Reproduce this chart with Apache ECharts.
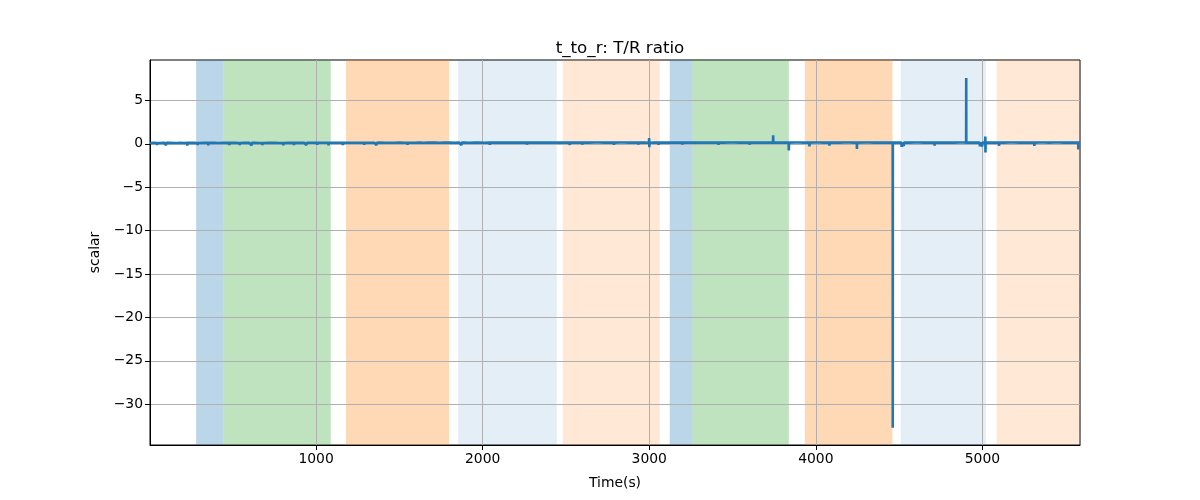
<!DOCTYPE html>
<html>
<head>
<meta charset="utf-8">
<script src="https://cdn.jsdelivr.net/npm/echarts@6/dist/echarts.min.js"></script>
<style>html,body{margin:0;padding:0;background:#fff}#c{width:1200px;height:500px}</style>
</head>
<body>
<div id="c"></div>
<script>
// ---- data ----
const titleText = 't_to_r: T/R ratio';
const xName = 'Time(s)';
const yName = 'scalar';
const xTicks = [1000, 2000, 3000, 4000, 5000];
const yTicks = [5, 0, -5, -10, -15, -20, -25, -30];
const xRange = [3, 5586];
const yRange = [-34.7, 9.66];

// sampled baseline (time in s)
const baseTimes = [
  3,30,60,90,120,150,180,210,240,270,
  300,330,360,390,420,450,480,510,540,570,
  600,630,660,690,720,750,780,810,840,870,
  900,930,960,990,1020,1050,1080,1110,1140,1170,
  1200,1230,1260,1320,1350,1380,1410,1440,1470,
  1500,1530,1560,1590,1620,1650,1680,1710,1740,1770,
  1800,1830,1860,1890,1920,1950,1980,2010,2070,
  2100,2130,2160,2190,2220,2250,2280,2310,2340,2370,
  2400,2430,2460,2490,2520,2550,2580,2610,2640,2670,
  2700,2730,2760,2790,2820,2850,2880,2910,2940,2970,
  3030,3060,3090,3120,3150,3180,3210,3240,3270,
  3300,3330,3360,3390,3420,3450,3480,3510,3540,3570,
  3600,3630,3660,3690,3720,3780,3810,3870,
  3900,3930,3990,4020,4050,4080,4110,4140,4170,
  4200,4230,4290,4320,4350,4380,4410,4440,
  4500,4560,4590,4620,4650,4680,4740,4770,
  4800,4830,4860,4890,4920,4950,5040,5070,
  5100,5130,5160,5190,5220,5250,5280,5340,5370,
  5400,5430,5460,5490,5520,5550,5586
];
const baseValues = [
  0.10,0.12,0.09,0.13,0.11,0.10,0.12,0.09,0.11,0.12,
  0.10,0.13,0.11,0.12,0.10,0.12,0.11,0.13,0.10,0.12,
  0.11,0.12,0.10,0.13,0.11,0.12,0.10,0.12,0.11,0.13,
  0.12,0.11,0.13,0.12,0.11,0.13,0.12,0.12,0.13,0.12,
  0.13,0.12,0.13,0.12,0.13,0.14,0.13,0.12,0.13,
  0.14,0.13,0.14,0.13,0.14,0.13,0.14,0.14,0.13,0.14,
  0.14,0.13,0.14,0.14,0.13,0.14,0.14,0.13,0.14,
  0.14,0.15,0.14,0.14,0.15,0.14,0.15,0.14,0.14,0.15,
  0.14,0.15,0.14,0.15,0.14,0.15,0.14,0.15,0.14,0.15,
  0.15,0.14,0.15,0.14,0.15,0.15,0.14,0.15,0.14,0.15,
  0.14,0.15,0.14,0.15,0.14,0.15,0.14,0.15,0.14,
  0.15,0.14,0.15,0.14,0.15,0.14,0.15,0.15,0.14,0.15,
  0.14,0.15,0.14,0.15,0.14,0.15,0.14,0.15,
  0.15,0.14,0.15,0.15,0.14,0.15,0.15,0.14,0.15,
  0.15,0.14,0.15,0.15,0.14,0.15,0.14,0.15,
  0.15,0.14,0.15,0.15,0.14,0.15,0.15,0.14,
  0.15,0.14,0.15,0.15,0.14,0.15,0.15,0.14,
  0.15,0.14,0.15,0.15,0.14,0.15,0.14,0.15,0.15,
  0.14,0.15,0.15,0.14,0.15,0.14,0.15
];
// short excursions (spikes / dips), given as [before, peak, after] samples
const eventTimes = [
  44,45,46,  98,99,100,  167,168,169,  226,227,228,  288,289,290,
  352,353,354,  412,413,414,  478,479,480,  541,542,543,  612,613,614,
  677,678,679,  734,735,736,  802,803,804,  866,867,868,  941,942,943,
  1006,1007,1008,  1074,1075,1076,  1159,1160,1161,  1288,1289,1290,
  1362,1363,1364,  1456,1457,1458,  1548,1549,1550,  1644,1645,1646,
  1872,1873,1874,  2042,2043,2044,  2265,2266,2267,  2522,2523,2524,
  2598,2599,2600,  2787,2788,2789,  2934,2935,2936,
  2998.5,2999.5,3000.5,3001.5,
  3055,3056,3057,  3198,3199,3200,  3415,3416,3417,  3602,3603,3604,
  3743,3744,3745,
  3837,3838,3839,
  3961,3962,3963,
  4081,4082,4083,
  4246,4247,4248,
  4461.5,4462,4462.5,4470,
  4514,4515,4516,  4527,4528,4529,  4712,4713,4714,
  4902.5,4903,4903.5,
  4984,4985,4986,  4998,4999,5000,
  5016.5,5017.5,5018.5,5019.5,
  5099,5100,5101,  5311,5312,5313,
  5575,5576,5577
];
const eventValues = [
  0.10,-0.15,0.10,  0.11,-0.18,0.11,  0.10,-0.12,0.10,  0.11,-0.20,0.11,  0.10,-0.15,0.10,
  0.11,-0.18,0.11,  0.10,-0.12,0.10,  0.11,-0.16,0.11,  0.10,-0.14,0.10,  0.11,-0.18,0.11,
  0.10,-0.15,0.10,  0.11,-0.12,0.11,  0.10,-0.18,0.10,  0.11,-0.14,0.11,  0.12,-0.16,0.12,
  0.12,-0.12,0.12,  0.12,-0.18,0.12,  0.12,-0.15,0.12,  0.12,-0.12,0.12,
  0.13,-0.14,0.13,  0.13,-0.10,0.13,  0.13,-0.12,0.13,  0.13,-0.10,0.13,
  0.14,-0.15,0.14,  0.14,-0.12,0.14,  0.14,-0.10,0.14,  0.14,-0.12,0.14,
  0.14,-0.10,0.14,  0.14,-0.12,0.14,  0.14,-0.10,0.14,
  0.12,0.67,-0.40,0.12,
  0.14,-0.12,0.14,  0.14,-0.10,0.14,  0.14,-0.12,0.14,  0.14,-0.10,0.14,
  0.14,1.00,0.14,
  0.14,-0.75,0.14,
  0.14,-0.30,0.14,
  0.14,-0.20,0.14,
  0.14,-0.60,0.14,
  0.14,-32.7,0.14,0.14,
  0.14,-0.35,0.14,  0.14,-0.25,0.14,  0.14,-0.20,0.14,
  0.14,7.60,0.14,
  0.14,-0.30,0.14,  0.14,-0.30,0.14,
  0.14,0.85,-1.00,0.14,
  0.14,-0.25,0.14,  0.14,-0.25,0.14,
  0.14,-0.65,0.14
];

// background phases: [start, end, kind]
const spans = [
  [280, 444, 'A'],
  [444, 1088, 'B'],
  [1180, 1798, 'C'],
  [1853, 2445, 'D'],
  [2481, 3063, 'E'],
  [3123, 3259, 'A'],
  [3259, 3838, 'B'],
  [3934, 4460, 'C'],
  [4510, 5021, 'D'],
  [5085, 5586, 'E']
];

// ---- styles ----
const spanColors = {
  A: 'rgba(31,119,180,0.30)',
  B: 'rgba(44,160,44,0.30)',
  C: 'rgba(255,127,14,0.30)',
  D: 'rgba(31,119,180,0.12)',
  E: 'rgba(255,127,14,0.17)'
};

const points = baseTimes.map((t, i) => [t, baseValues[i]])
  .concat(eventTimes.map((t, i) => [t, eventValues[i]]))
  .sort((a, b) => a[0] - b[0]);

const font = 'DejaVu Sans';
const fmt = v => (v < 0 ? '\u2212' + Math.abs(v) : String(v));
const chart = echarts.init(document.getElementById('c'), null, {renderer: 'canvas'});
chart.setOption({
  animation: false,
  backgroundColor: '#fff',
  title: {
    text: titleText,
    left: 615, top: 35, textAlign: 'center',
    textStyle: {fontFamily: font, fontSize: 16.7, fontWeight: 'normal', color: '#000'}
  },
  grid: {left: 150, right: 120, top: 60, bottom: 55, show: true, borderColor: '#000', borderWidth: 1, backgroundColor: 'transparent', z: 0},
  xAxis: {
    type: 'value', min: xRange[0], max: xRange[1], z: 2,
    name: xName, nameLocation: 'middle', nameGap: 31,
    nameTextStyle: {fontFamily: font, fontSize: 13.9, color: '#000'},
    axisLine: {show: true, onZero: false, lineStyle: {color: '#000', width: 1}},
    axisTick: {show: true, length: 5, lineStyle: {color: '#000'}, customValues: xTicks},
    axisLabel: {fontFamily: font, fontSize: 13.9, color: '#000', margin: 7, customValues: xTicks, formatter: fmt},
    splitLine: {show: true, lineStyle: {color: '#b0b0b0', width: 1}}
  },
  yAxis: {
    type: 'value', min: yRange[0], max: yRange[1], z: 2,
    name: yName, nameLocation: 'middle', nameGap: 47, nameRotate: 90,
    nameTextStyle: {fontFamily: font, fontSize: 13.9, color: '#000'},
    axisLine: {show: true, onZero: false, lineStyle: {color: '#000', width: 1}},
    axisTick: {show: true, length: 5, lineStyle: {color: '#000'}, customValues: yTicks},
    axisLabel: {fontFamily: font, fontSize: 13.9, color: '#000', margin: 7, customValues: yTicks, formatter: fmt},
    splitLine: {show: true, lineStyle: {color: '#b0b0b0', width: 1}}
  },
  series: [
    {
      type: 'line', data: [], silent: true, z: 1,
      markArea: {
        silent: true,
        data: spans.map(s => [
          {xAxis: s[0], itemStyle: {color: spanColors[s[2]]}},
          {xAxis: s[1]}
        ])
      }
    },
    {
      type: 'line', data: points, showSymbol: false, symbol: 'none', z: 3,
      lineStyle: {color: '#1f77b4', width: 2.6, join: 'bevel'},
      clip: true
    }
  ]
});
</script>
</body>
</html>
